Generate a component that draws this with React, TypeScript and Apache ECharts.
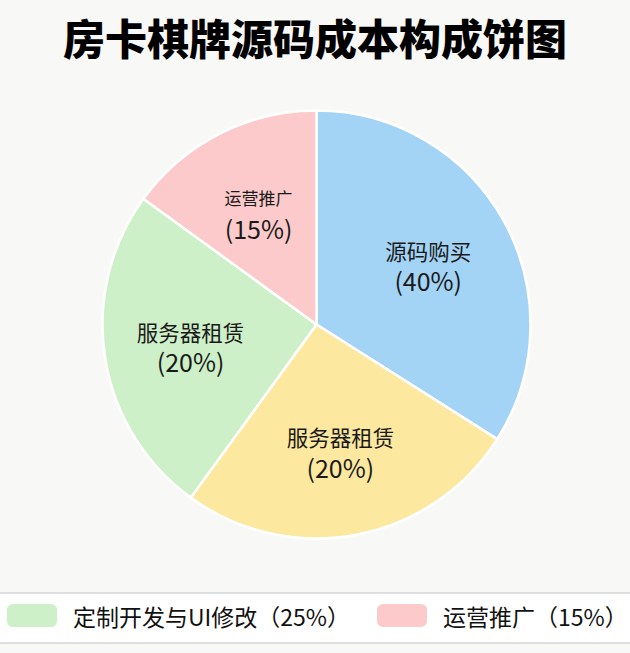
import React, { useEffect, useRef } from "react";
import * as echarts from "echarts";

const titleText = "房卡棋牌源码成本构成饼图";
const categories = ["源码购买（40%）", "服务器租赁（20%）", "定制开发与UI修改（25%）", "运营推广（15%）"];
const values = [34, 26, 25, 15];
const sliceNames = ["源码购买", "服务器租赁", "服务器租赁", "运营推广"];
const slicePercents = ["(40%)", "(20%)", "(20%)", "(15%)"];
const colors = ["#A3D3F5", "#FDE8A0", "#CEF0C8", "#FCCACA"];
const legendItems = ["定制开发与UI修改（25%）", "运营推广（15%）"];

const FONT = '"Noto Sans CJK SC", "Noto Sans", sans-serif';

export default function App() {
  const ref = useRef<HTMLDivElement>(null);
  useEffect(() => {
    if (!ref.current) return;
    const chart = echarts.init(ref.current, null, { renderer: "svg" });
    const data = categories.map((name, i) => ({
      name,
      value: values[i],
      itemStyle: { color: colors[i] },
    }));
    const labelData = categories.map((name, i) => ({
      name,
      value: values[i],
      itemStyle: { color: "rgba(0,0,0,0)" },
      label: {
        formatter: i === 3 ? `{s|${sliceNames[i]}}\n{p|${slicePercents[i]}}` : `{n|${sliceNames[i]}}\n{p|${slicePercents[i]}}`,
      },
    }));
    chart.setOption({
      animation: false,
      backgroundColor: "#F8F8F6",
      textStyle: { fontFamily: FONT },
      title: {
        text: titleText,
        left: "center",
        top: 10,
        textStyle: { fontSize: 42, fontWeight: 900, color: "#000", fontFamily: FONT },
      },
      graphic: [
        { type: "rect", shape: { x: 0, y: 593, width: 630, height: 50 }, style: { fill: "#FFFFFF" }, z: -10 },
        { type: "line", shape: { x1: 0, y1: 593, x2: 630, y2: 593 }, style: { stroke: "#D6D6D6", lineWidth: 1.5 }, z: -9 },
        { type: "line", shape: { x1: 0, y1: 643, x2: 630, y2: 643 }, style: { stroke: "#D6D6D6", lineWidth: 1.5 }, z: -9 },
      ],
      legend: {
        data: legendItems,
        left: 7,
        top: 604,
        width: 700,
        padding: 0,
        itemWidth: 50,
        itemHeight: 23,
        itemGap: 27,
        icon: "roundRect",
        itemStyle: { borderWidth: 0 },
        textStyle: { fontSize: 23, color: "#111", fontFamily: FONT, padding: [0, 0, 0, 11] },
      },
      series: [
        {
          type: "pie",
          center: [316.5, 324.5],
          radius: [0, 214],
          startAngle: 90,
          clockwise: true,
          data,
          label: { show: false },
          labelLine: { show: false },
          itemStyle: { borderColor: "#FFFFFF", borderWidth: 2.5 },
          emphasis: { disabled: true },
        },
        {
          type: "pie",
          center: [316.5, 326.5],
          radius: [35, 214],
          startAngle: 90,
          clockwise: true,
          silent: true,
          data: labelData,
          legendHoverLink: false,
          label: {
            show: true,
            position: "inside",
            color: "#1a1a1a",
            fontFamily: FONT,
            rich: {
              n: { fontSize: 21.5, lineHeight: 30, color: "#1a1a1a", fontFamily: FONT },
              s: { fontSize: 17, lineHeight: 30, color: "#1a1a1a", fontFamily: FONT },
              p: { fontSize: 25, lineHeight: 30, color: "#1a1a1a", fontFamily: FONT },
            },
          },
          labelLine: { show: false },
          emphasis: { disabled: true },
        },
      ],
    });
    return () => chart.dispose();
  }, []);
  return <div ref={ref} style={{ position: "fixed", left: 0, top: 0, width: 630, height: 653 }} />;
}
